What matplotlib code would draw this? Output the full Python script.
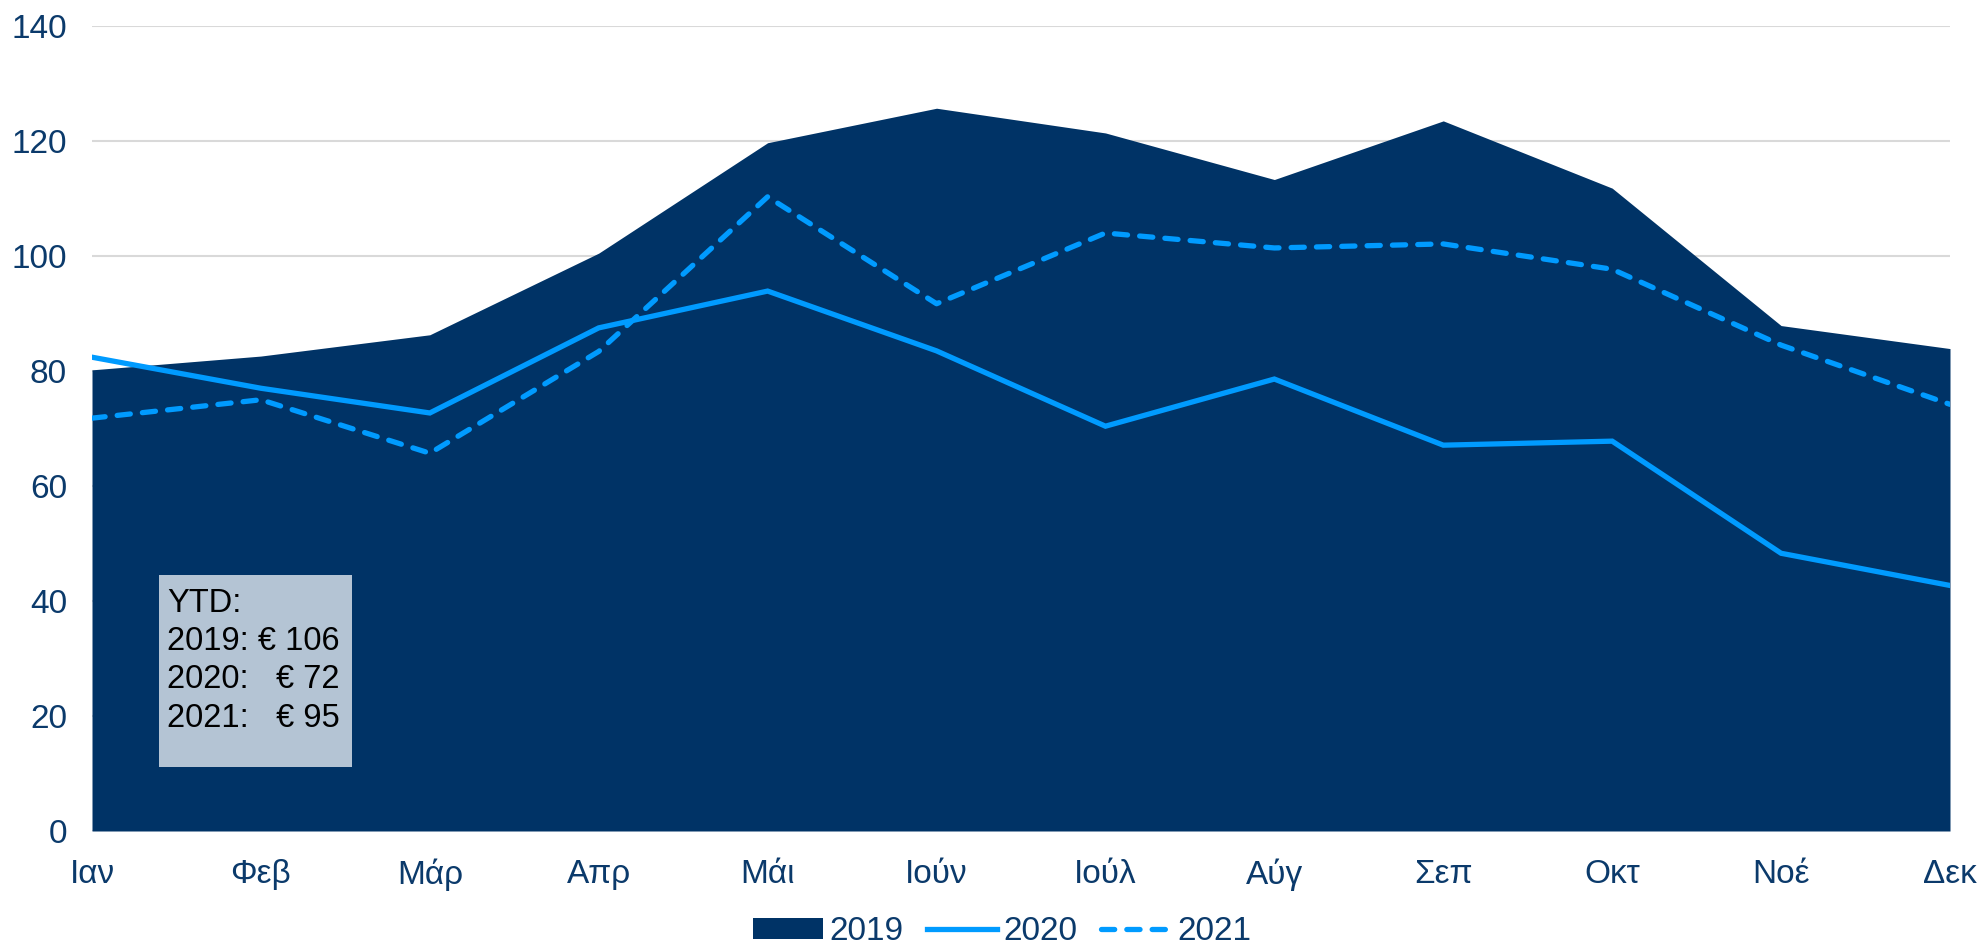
import matplotlib.pyplot as plt
from matplotlib.patches import Rectangle, Patch
from matplotlib.lines import Line2D

plt.rcParams['font.family'] = ['Liberation Sans', 'DejaVu Sans']

months = ['Ιαν', 'Φεβ', 'Μάρ', 'Απρ', 'Μάι', 'Ιούν', 'Ιούλ', 'Αύγ', 'Σεπ', 'Οκτ', 'Νοέ', 'Δεκ']
v2019 = [80.2, 82.6, 86.3, 100.5, 119.7, 125.7, 121.4, 113.3, 123.5, 111.8, 87.9, 83.9]
v2020 = [82.4, 77.0, 72.7, 87.5, 93.9, 83.5, 70.4, 78.6, 67.1, 67.8, 48.3, 42.7]
v2021 = [71.8, 75.0, 65.7, 83.4, 110.3, 91.7, 104.0, 101.4, 102.1, 97.7, 84.5, 74.2]
yticks = [0, 20, 40, 60, 80, 100, 120, 140]
ytd_text = "YTD:\n2019: € 106\n2020:   € 72\n2021:   € 95"

navy = '#003366'
light = '#009BFF'
txt = '#0B3A6B'

W, H = 1982, 944
fig = plt.figure(figsize=(W / 100, H / 100), dpi=100)
ax = fig.add_axes([92 / W, 1 - 831 / H, (1950 - 92) / W, (831 - 26) / H])

x = list(range(len(months)))
ax.fill_between(x, 0, v2019, color=navy, lw=0, zorder=2)
ax.plot(x, v2020, color=light, lw=3.8, zorder=3, solid_joinstyle='miter')
ax.plot(x, v2021, color=light, lw=3.8, zorder=3, dashes=(2.5, 2.3),
        dash_capstyle='round')

ax.set_xlim(0, 11)
ax.set_ylim(0, 140)
ax.set_yticks(yticks)
ax.set_xticks(x)
ax.set_xticklabels(months)
ax.yaxis.grid(True, color='#D9D9D9', lw=1.5, zorder=0)
ax.set_axisbelow(True)
for s in ax.spines.values():
    s.set_visible(False)
ax.tick_params(length=0, labelsize=24, labelcolor=txt)
ax.tick_params(axis='x', pad=20)
ax.tick_params(axis='y', pad=18)

# YTD box
fig.patches.append(Rectangle((159 / W, 1 - 767 / H), (352 - 159) / W, (767 - 575) / H,
                             transform=fig.transFigure, facecolor='#B4C4D4',
                             edgecolor='none', zorder=5))
fig.text(167 / W, 1 - 588 / H, ytd_text, fontsize=23.5, color='black', va='top',
         ha='left', linespacing=1.3, zorder=6)

handles = [Patch(facecolor=navy, edgecolor='none'),
           Line2D([], [], color=light, lw=3.8),
           Line2D([], [], color=light, lw=3.8, dashes=(2.5, 2.3), dash_capstyle='round')]
fig.legend(handles, ['2019', '2020', '2021'], loc='center',
           bbox_to_anchor=(1002 / W, 1 - 932 / H), ncol=3, frameon=False, fontsize=24,
           handlelength=2.1, handleheight=0.6, handletextpad=0.2,
           columnspacing=0.7, borderpad=0, labelcolor=txt)

fig.savefig('out.png', dpi=100)
